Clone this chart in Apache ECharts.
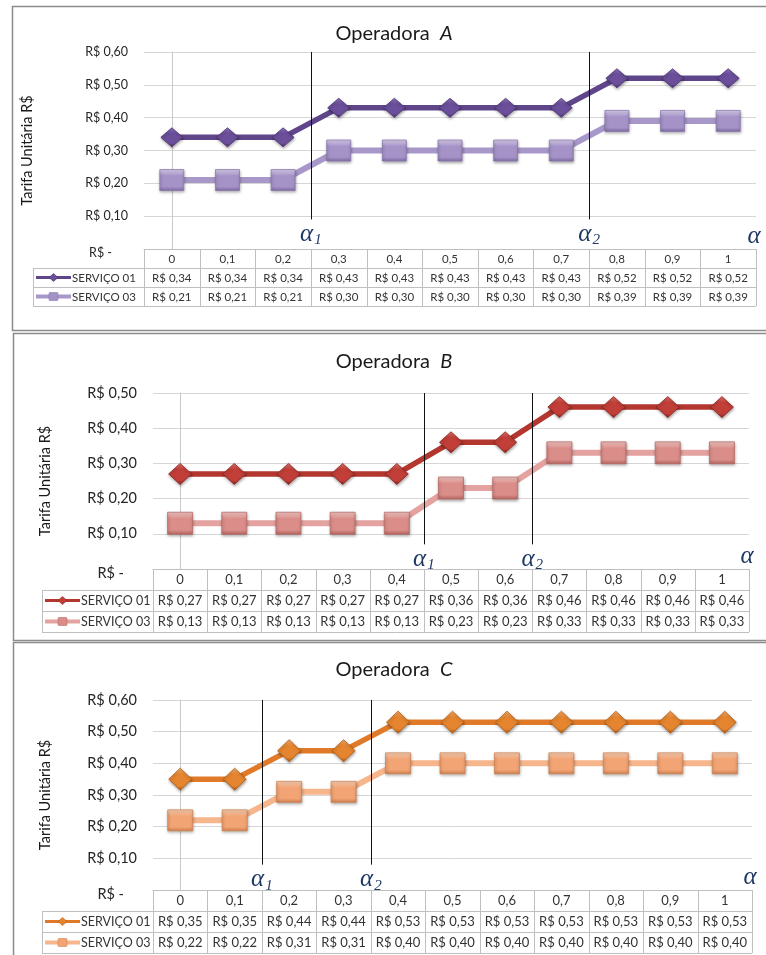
<!DOCTYPE html>
<html>
<head>
<meta charset="utf-8">
<script src="https://cdn.jsdelivr.net/npm/echarts@6/dist/echarts.min.js"></script>
<style>
html, body { margin: 0; padding: 0; background: #ffffff; }
#chart { width: 766px; height: 955px; }
</style>
</head>
<body>
<div id="chart"></div>
<script>
// Shared alpha levels (x categories) and their printed labels
const alphaValues = [0, 0.1, 0.2, 0.3, 0.4, 0.5, 0.6, 0.7, 0.8, 0.9, 1];
const alphaTickLabels = ['0', '0,1', '0,2', '0,3', '0,4', '0,5', '0,6', '0,7', '0,8', '0,9', '1'];
const serviceNames = ['SERVIÇO 01', 'SERVIÇO 03'];
const operatorLetters = ['A', 'B', 'C'];

// Unit tariffs (R$) per alpha level
const tariffA01 = [0.34, 0.34, 0.34, 0.43, 0.43, 0.43, 0.43, 0.43, 0.52, 0.52, 0.52];
const tariffA03 = [0.21, 0.21, 0.21, 0.30, 0.30, 0.30, 0.30, 0.30, 0.39, 0.39, 0.39];
const tariffB01 = [0.27, 0.27, 0.27, 0.27, 0.27, 0.36, 0.36, 0.46, 0.46, 0.46, 0.46];
const tariffB03 = [0.13, 0.13, 0.13, 0.13, 0.13, 0.23, 0.23, 0.33, 0.33, 0.33, 0.33];
const tariffC01 = [0.35, 0.35, 0.44, 0.44, 0.53, 0.53, 0.53, 0.53, 0.53, 0.53, 0.53];
const tariffC03 = [0.22, 0.22, 0.31, 0.31, 0.40, 0.40, 0.40, 0.40, 0.40, 0.40, 0.40];

// Alpha thresholds (alpha_1, alpha_2) for each operator
const alphaCutsA = [0.25, 0.75];
const alphaCutsB = [0.45, 0.65];
const alphaCutsC = [0.15, 0.35];

// Y-axis ranges
const yMaxA = 0.6, yMaxB = 0.5, yMaxC = 0.6;
const yStep = 0.1;

const FONT = 'Lato, "Open Sans", sans-serif';
const ALPHA_COLOR = '#1f3864';

const panels = [
  {
    letter: operatorLetters[0], s01: tariffA01, s03: tariffA03, cuts: alphaCutsA, yMax: yMaxA,
    frame: { x: 12, y: 6, h: 324 },
    grid: { left: 144, top: 52, width: 612, height: 197 },
    titleTop: 19, rowH: 19, keyLeft: 33, tickFont: 12.5, cellFont: 11.5, keyFont: 11.5,
    nameGap: 109, nameFont: 14.5, cutEnd: 0.09, zeroPad: 16,
    diamond: [22, 19], square: [24, 21],
    c01: { line: '#5f468b', top: '#9479c4', mid: '#6b4f9b', bot: '#432a68', border: '#4a3272' },
    c03: { line: '#a898c9', top: '#e2d8f4', mid: '#a593c8', bot: '#7d6aa3', border: '#8a78ae' }
  },
  {
    letter: operatorLetters[1], s01: tariffB01, s03: tariffB03, cuts: alphaCutsB, yMax: yMaxB,
    frame: { x: 13, y: 333, h: 307 },
    grid: { left: 153, top: 393, width: 596, height: 176 },
    titleTop: 347, rowH: 21, keyLeft: 42, tickFont: 14.5, cellFont: 13, keyFont: 12.5,
    nameGap: 100, nameFont: 14.5, cutEnd: 0.07, zeroPad: 13,
    diamond: [23, 21], square: [25, 22],
    c01: { line: '#b3362f', top: '#e5736b', mid: '#c13f38', bot: '#8a1f1b', border: '#8e2622' },
    c03: { line: '#e4a3a0', top: '#f7cdca', mid: '#da8d89', bot: '#b3625d', border: '#b86c68' }
  },
  {
    letter: operatorLetters[2], s01: tariffC01, s03: tariffC03, cuts: alphaCutsC, yMax: yMaxC,
    frame: { x: 13, y: 642, h: 330 },
    grid: { left: 153, top: 700, width: 599, height: 190 },
    titleTop: 655, rowH: 21, keyLeft: 42, tickFont: 14.5, cellFont: 13, keyFont: 12.5,
    nameGap: 100, nameFont: 14.5, cutEnd: 0.08, zeroPad: 13,
    diamond: [23, 22], square: [25, 21],
    c01: { line: '#e07a29', top: '#f9ad68', mid: '#e5852f', bot: '#b0560e', border: '#b45d15' },
    c03: { line: '#f7b58c', top: '#fdd6bd', mid: '#f2a474', bot: '#cf7f4e', border: '#d08555' }
  }
];

function money(v) {
  return 'R$ ' + v.toFixed(2).replace('.', ',');
}

function bevel(c) {
  return new echarts.graphic.LinearGradient(0, 0, 0, 1, [
    { offset: 0, color: c.top },
    { offset: 0.3, color: c.mid },
    { offset: 0.8, color: c.mid },
    { offset: 1, color: c.bot }
  ]);
}

const chart = echarts.init(document.getElementById('chart'), null, { renderer: 'canvas' });

const option = {
  backgroundColor: '#ffffff',
  animation: false,
  title: [],
  grid: [],
  xAxis: [],
  yAxis: [],
  series: []
};

panels.forEach((p, i) => {
  option.title.push({
    text: 'Operadora  {i|' + p.letter + '}',
    left: 389,
    top: p.titleTop,
    textAlign: 'center',
    textStyle: {
      fontFamily: FONT, fontSize: 20, fontWeight: 'normal', color: '#1a1a1a',
      rich: { i: { fontFamily: FONT, fontSize: 20, fontStyle: 'italic', color: '#1a1a1a' } }
    }
  });
  option.grid.push({
    left: p.grid.left, top: p.grid.top, width: p.grid.width, height: p.grid.height,
    containLabel: false
  });
  option.xAxis.push({
    type: 'value', gridIndex: i, min: -0.05, max: 1.05,
    axisLabel: { show: false }, axisTick: { show: false }, splitLine: { show: false },
    axisLine: { show: true, lineStyle: { color: '#bfbfbf', width: 1 } },
    name: 'α', nameLocation: 'end', nameGap: -2,
    nameTextStyle: {
      fontFamily: '"Liberation Serif", serif', fontStyle: 'italic', fontSize: 25,
      color: ALPHA_COLOR, align: 'center', verticalAlign: 'bottom', padding: [0, 0, 0, 0]
    }
  });
  option.yAxis.push({
    type: 'value', gridIndex: i, min: 0, max: p.yMax, interval: yStep,
    name: 'Tarifa Unitária R$', nameLocation: 'middle', nameRotate: 90, nameGap: p.nameGap,
    nameTextStyle: { fontFamily: FONT, fontSize: p.nameFont, color: '#1a1a1a' },
    axisLine: { show: true, lineStyle: { color: '#c8c8c8', width: 1 } },
    axisTick: { show: false },
    splitLine: { show: true, lineStyle: { color: '#d6d6d6', width: 1 } },
    axisLabel: {
      fontFamily: FONT, fontSize: p.tickFont, color: '#262626', margin: 16,
      formatter: v => (Math.abs(v) < 1e-9 ? '{z|R$ -}' : money(v)),
      rich: { z: { fontFamily: FONT, fontSize: p.tickFont, color: '#262626', padding: [8, p.zeroPad, 0, 0] } }
    }
  });

  const lineData01 = alphaValues.map((a, k) => [a, p.s01[k]]);
  const lineData03 = alphaValues.map((a, k) => [a, p.s03[k]]);

  option.series.push({
    name: serviceNames[0], type: 'line', xAxisIndex: i, yAxisIndex: i,
    data: lineData01, symbol: 'diamond', symbolSize: p.diamond,
    lineStyle: { color: p.c01.line, width: 5.5 },
    itemStyle: {
      color: bevel(p.c01), borderColor: p.c01.border, borderWidth: 0.8,
      shadowBlur: 3, shadowColor: 'rgba(0,0,0,0.35)', shadowOffsetY: 1.5, shadowOffsetX: 0.5
    },
    z: 3,
    markLine: {
      silent: true, symbol: ['none', 'none'], animation: false,
      lineStyle: { color: '#111111', width: 1, type: 'solid' },
      label: {
        show: true, position: 'end', distance: 2,
        formatter: prm => '{a|α}{s|' + (prm.dataIndex + 1) + '}',
        rich: {
          a: { fontFamily: '"Liberation Serif", serif', fontStyle: 'italic', fontSize: 25, color: ALPHA_COLOR, lineHeight: 26 },
          s: { fontFamily: '"Liberation Serif", serif', fontStyle: 'italic', fontSize: 15, color: ALPHA_COLOR, padding: [12, 0, 0, 1], lineHeight: 26 }
        }
      },
      data: p.cuts.map(c => [{ coord: [c, p.yMax] }, { coord: [c, p.cutEnd] }])
    }
  });
  option.series.push({
    name: serviceNames[1], type: 'line', xAxisIndex: i, yAxisIndex: i,
    data: lineData03, symbol: 'rect', symbolSize: p.square,
    lineStyle: { color: p.c03.line, width: 6 },
    itemStyle: {
      color: bevel(p.c03), borderColor: p.c03.border, borderWidth: 0.8,
      shadowBlur: 3, shadowColor: 'rgba(0,0,0,0.35)', shadowOffsetY: 1.5, shadowOffsetX: 0.5
    },
    z: 2
  });
});

chart.setOption(option);

// Frames around each panel plus the data tables under each plot
function buildGraphics() {
  const els = [];
  const STROKE = '#bfbfbf';
  const TXT = '#333333';

  panels.forEach((p, i) => {
    els.push({
      type: 'rect', z: -10, silent: true,
      shape: { x: p.frame.x + 0.5, y: p.frame.y + 0.5, width: 820, height: p.frame.h },
      style: { fill: 'none', stroke: '#8c8c8c', lineWidth: 1.5 }
    });

    const px = a => chart.convertToPixel({ xAxisIndex: i }, a);
    const yTop = Math.round(chart.convertToPixel({ yAxisIndex: i }, 0));
    const edges = [px(-0.05)];
    for (let k = 0; k < alphaValues.length - 1; k++) {
      edges.push(px((alphaValues[k] + alphaValues[k + 1]) / 2));
    }
    edges.push(px(1.05));
    const right = Math.round(edges[edges.length - 1]);
    const h = p.rowH;

    const hline = (x1, x2, y) => els.push({
      type: 'line', silent: true, z: 5,
      shape: { x1: x1, y1: y + 0.5, x2: x2, y2: y + 0.5 },
      style: { stroke: STROKE, lineWidth: 1 }
    });
    const vline = (x, y1, y2) => els.push({
      type: 'line', silent: true, z: 5,
      shape: { x1: Math.round(x) + 0.5, y1: y1, x2: Math.round(x) + 0.5, y2: y2 },
      style: { stroke: STROKE, lineWidth: 1 }
    });

    hline(p.keyLeft, right, yTop + h);
    hline(p.keyLeft, right, yTop + 2 * h);
    hline(p.keyLeft, right, yTop + 3 * h);
    edges.forEach(x => vline(x, yTop, yTop + 3 * h));
    vline(p.keyLeft, yTop + h, yTop + 3 * h);

    const cellText = (txt, x, y, size) => els.push({
      type: 'text', silent: true, z: 6,
      style: {
        text: txt, x: x, y: y, align: 'center', verticalAlign: 'middle',
        font: size + 'px ' + FONT, fill: TXT
      }
    });

    alphaValues.forEach((a, k) => {
      const cx = px(a);
      cellText(alphaTickLabels[k], cx, yTop + h / 2 + 0.5, p.cellFont);
      cellText(money(p.s01[k]), cx, yTop + 1.5 * h + 0.5, p.cellFont);
      cellText(money(p.s03[k]), cx, yTop + 2.5 * h + 0.5, p.cellFont);
    });

    // legend keys inside the first column
    const keyX1 = p.keyLeft + 3, keyX2 = p.keyLeft + 38, keyMid = (keyX1 + keyX2) / 2;
    [0, 1].forEach(r => {
      const cy = yTop + (1.5 + r) * h;
      const col = r === 0 ? p.c01 : p.c03;
      els.push({
        type: 'line', silent: true, z: 6,
        shape: { x1: keyX1, y1: cy, x2: keyX2, y2: cy },
        style: { stroke: col.line, lineWidth: r === 0 ? 3 : 4 }
      });
      if (r === 0) {
        els.push({
          type: 'polygon', silent: true, z: 7,
          shape: { points: [[keyMid, cy - 4], [keyMid + 4.5, cy], [keyMid, cy + 4], [keyMid - 4.5, cy]] },
          style: { fill: col.mid, stroke: col.border, lineWidth: 0.6 }
        });
      } else {
        els.push({
          type: 'rect', silent: true, z: 7,
          shape: { x: keyMid - 4.5, y: cy - 4, width: 9, height: 8, r: 1 },
          style: { fill: col.mid, stroke: col.border, lineWidth: 0.6 }
        });
      }
      els.push({
        type: 'text', silent: true, z: 6,
        style: {
          text: serviceNames[r], x: keyX2 + 1, y: cy + 0.5, align: 'left', verticalAlign: 'middle',
          font: p.keyFont + 'px ' + FONT, fill: TXT
        }
      });
    });
  });
  return els;
}

chart.setOption({ graphic: buildGraphics() });
</script>
</body>
</html>
